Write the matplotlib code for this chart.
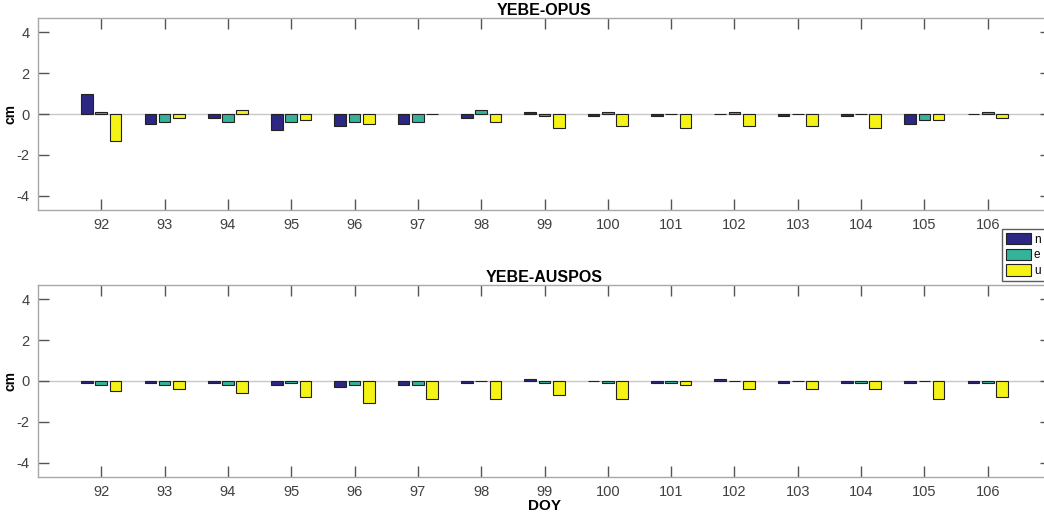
import numpy as np
import matplotlib
matplotlib.use("Agg")
import matplotlib.pyplot as plt
from matplotlib.patches import Patch

# =====================================================
# DATA (cm)
# =====================================================
doy = [92, 93, 94, 95, 96, 97, 98, 99, 100, 101, 102, 103, 104, 105, 106]
components = ["n", "e", "u"]

opus_n = [1.0, -0.5, -0.2, -0.8, -0.6, -0.5, -0.2, 0.1, -0.1, -0.1, 0.0, -0.1, -0.1, -0.5, 0.0]
opus_e = [0.1, -0.4, -0.4, -0.4, -0.4, -0.4, 0.2, -0.1, 0.1, 0.0, 0.1, 0.0, 0.0, -0.3, 0.1]
opus_u = [-1.3, -0.2, 0.2, -0.3, -0.5, 0.02, -0.4, -0.7, -0.6, -0.7, -0.6, -0.6, -0.7, -0.3, -0.2]

auspos_n = [-0.1, -0.1, -0.1, -0.2, -0.3, -0.2, -0.1, 0.1, 0.0, -0.1, 0.1, -0.1, -0.1, -0.1, -0.1]
auspos_e = [-0.2, -0.2, -0.2, -0.1, -0.2, -0.2, 0.0, -0.1, -0.1, -0.1, 0.0, 0.0, -0.1, 0.0, -0.1]
auspos_u = [-0.5, -0.4, -0.6, -0.8, -1.1, -0.9, -0.9, -0.7, -0.9, -0.2, -0.4, -0.4, -0.4, -0.9, -0.8]

COLORS = ["#2c2782", "#35b39a", "#f5f215"]
BAR_W = 0.185
OFFSET = 0.225

plt.rcParams["font.family"] = ["Liberation Sans", "DejaVu Sans"]
plt.rcParams["axes.unicode_minus"] = False


def draw_panel(ax, series, title):
    x = np.array(doy)
    ax.axhline(0, color="#c8c8c8", linewidth=1.0, zorder=1)
    for k, vals in enumerate(series):
        ax.bar(x + (k - 1) * OFFSET, vals, width=BAR_W,
               color=COLORS[k], edgecolor="#222222", linewidth=0.8, zorder=2)
    ax.set_xlim(91, 107)
    ax.set_ylim(-4.7, 4.7)
    ax.set_xticks(doy)
    ax.set_yticks([-4, -2, 0, 2, 4])
    ax.tick_params(direction="in", length=8, width=1.0, color="#555555",
                   labelcolor="#404040", labelsize=10.5,
                   top=True, right=True, pad=6)
    for sp in ax.spines.values():
        sp.set_color("#a8a8a8")
        sp.set_linewidth(1.0)
    ax.set_ylabel("cm", fontsize=10, fontweight="bold")
    ax.yaxis.set_label_coords(-0.02, 0.5)
    ax.set_title(title, fontsize=11.5, fontweight="bold", pad=2)


fig = plt.figure(figsize=(10.44, 5.15), dpi=100)
W, H = 1044, 515
left, right = 38, 1051
ax1 = fig.add_axes([left / W, 1 - 210 / H, (right - left) / W, 192 / H])
ax2 = fig.add_axes([left / W, 1 - 477 / H, (right - left) / W, 192 / H])

draw_panel(ax1, [opus_n, opus_e, opus_u], "YEBE-OPUS")
draw_panel(ax2, [auspos_n, auspos_e, auspos_u], "YEBE-AUSPOS")
ax2.set_xlabel("DOY", fontsize=11, fontweight="bold", labelpad=0)

handles = [Patch(facecolor=COLORS[k], edgecolor="#222222", linewidth=0.8)
           for k in range(3)]
fig.legend(handles, components, loc="upper left",
           bbox_to_anchor=(1002 / W, 1 - 229 / H), fontsize=8.5,
           frameon=True, fancybox=False, edgecolor="#333333",
           handlelength=2.1, handleheight=1.1, handletextpad=0.25,
           labelspacing=0.25, borderpad=0.35, borderaxespad=0)

fig.savefig("out.png", dpi=100)
plt.close(fig)
